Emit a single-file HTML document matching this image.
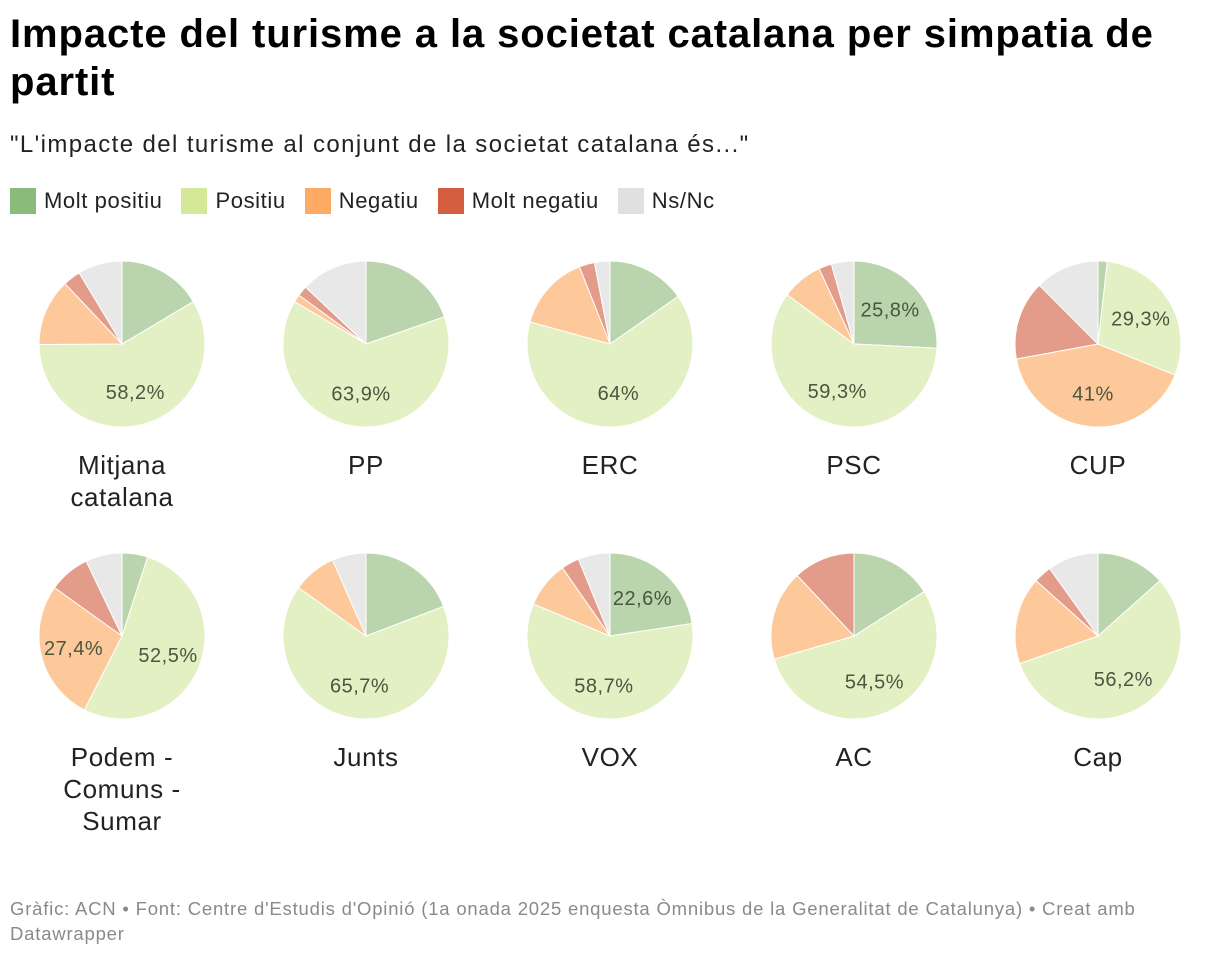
<!DOCTYPE html>
<html><head><meta charset="utf-8">
<style>
body{margin:0;background:#fff;font-family:"Liberation Sans",sans-serif;width:1220px;height:958px;overflow:hidden;position:relative}
h1{position:absolute;left:10px;top:10px;margin:0;font-size:40px;line-height:48px;font-weight:bold;color:#000;width:1200px;letter-spacing:0.9px}
.sub{position:absolute;left:10px;top:131px;font-size:24px;color:#222;letter-spacing:1.4px}
.legend{position:absolute;left:10px;top:188px;display:flex;font-size:22px;color:#222;letter-spacing:0.6px}
.li{display:flex;align-items:center;margin-right:19px}
.sw{width:26px;height:26px;margin-right:8px}
.foot{position:absolute;left:10px;top:896px;font-size:18.5px;color:#8a8a8a;line-height:25px;width:1205px;letter-spacing:0.8px}
</style></head><body>
<h1>Impacte del turisme a la societat catalana per simpatia de<br>partit</h1>
<div class="sub">"L'impacte del turisme al conjunt de la societat catalana és..."</div>
<div class="legend">
<div class="li"><div class="sw" style="background:#8bbb7a"></div>Molt positiu</div>
<div class="li"><div class="sw" style="background:#d4e89a"></div>Positiu</div>
<div class="li"><div class="sw" style="background:#fdab62"></div>Negatiu</div>
<div class="li"><div class="sw" style="background:#d35e40"></div>Molt negatiu</div>
<div class="li"><div class="sw" style="background:#e0e0e0"></div>Ns/Nc</div>
</div>
<svg id="pies" width="1220" height="958" style="position:absolute;left:0;top:0"></svg>
<div class="foot">Gràfic: ACN • Font: Centre d'Estudis d'Opinió (1a onada 2025 enquesta Òmnibus de la Generalitat de Catalunya) • Creat amb Datawrapper</div>
<script>
const categories=["Mitjana catalana","PP","ERC","PSC","CUP","Podem - Comuns - Sumar","Junts","VOX","AC","Cap"];
const moltPositiu=[16.4,19.7,15.3,25.8,1.8,5,19.2,22.6,16,13.4];
const positiu=[58.2,63.9,64,59.3,29.3,52.5,65.7,58.7,54.5,56.2];
const negatiu=[13,1.5,14.7,8,41,27.4,8.5,9,17.5,17];
const moltNegatiu=[3.4,2,3,2.5,15.4,8,0,3.5,12,3.5];
const nsnc=[8.6,13,3,4.4,12.5,7.1,6.6,6.2,0,9.9];
const colors=["#bad5ad","#e3f0c3","#fdc89a","#e39b8a","#e8e8e8"];
const seriesNames=["molt-positiu","positiu","negatiu","molt-negatiu","ns-nc"];
const labelLines={"Mitjana catalana":["Mitjana","catalana"],"Podem - Comuns - Sumar":["Podem -","Comuns -","Sumar"]};
const svg=document.getElementById('pies');
const NS="http://www.w3.org/2000/svg";
const R=83;
function pt(cx,cy,r,frac){const a=frac*2*Math.PI;return [cx+r*Math.sin(a),cy-r*Math.cos(a)];}
function fmt(v){return String(v).replace('.',',')+'%';}
categories.forEach((cat,i)=>{
  const cx=122+(i%5)*244, cy=i<5?344:636;
  const vals=[moltPositiu[i],positiu[i],negatiu[i],moltNegatiu[i],nsnc[i]];
  const tot=vals.reduce((a,b)=>a+b,0);
  let acc=0;
  vals.forEach((v,k)=>{
    if(v<=0)return;
    const s=acc/tot,e=(acc+v)/tot;acc+=v;
    const p=document.createElementNS(NS,'path');
    const [x1,y1]=pt(cx,cy,R,s),[x2,y2]=pt(cx,cy,R,e);
    p.setAttribute('d',`M${cx},${cy}L${x1},${y1}A${R},${R} 0 ${e-s>0.5?1:0} 1 ${x2},${y2}Z`);
    p.setAttribute('fill',colors[k]);
    p.setAttribute('stroke','#fff');p.setAttribute('stroke-width','1');
    
    
    svg.appendChild(p);
    if(v>=20){
      const [lx,ly]=pt(cx,cy,R*0.6,(s+e)/2);
      const t=document.createElementNS(NS,'text');
      t.setAttribute('x',lx);t.setAttribute('y',ly+7);
      t.setAttribute('text-anchor','middle');t.setAttribute('font-size','20');
      t.setAttribute('letter-spacing','0.5');
      t.setAttribute('fill','#4b5540');t.setAttribute('font-family','Liberation Sans, sans-serif');
      t.textContent=fmt(v);
      
      
      svg.appendChild(t);
    }
  });
  const lines=labelLines[cat]||[cat];
  lines.forEach((ln,j)=>{
    const t=document.createElementNS(NS,'text');
    t.setAttribute('x',cx);t.setAttribute('y',cy+130+j*32);
    t.setAttribute('text-anchor','middle');t.setAttribute('font-size','26');
    t.setAttribute('letter-spacing','0.6');
    t.setAttribute('fill','#222');t.setAttribute('font-family','Liberation Sans, sans-serif');
    t.textContent=ln;
    
    
    svg.appendChild(t);
  });
});
</script>
</body></html>
